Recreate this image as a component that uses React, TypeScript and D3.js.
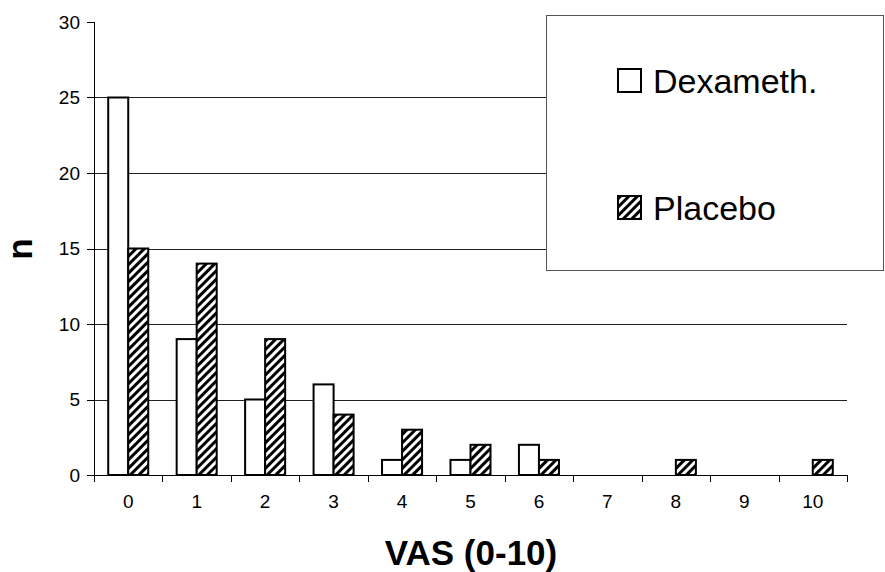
import * as d3 from "d3";

const categories = ["0", "1", "2", "3", "4", "5", "6", "7", "8", "9", "10"];
const dexameth = [25, 9, 5, 6, 1, 1, 2, 0, 0, 0, 0];
const placebo = [15, 14, 9, 4, 3, 2, 1, 0, 1, 0, 1];
const series = ["Dexameth.", "Placebo"];
const yTicks = [0, 5, 10, 15, 20, 25, 30];

const width = 885;
const height = 572;
const marginLeft = 94;
const marginRight = 38;
const marginTop = 22;
const marginBottom = 97;
const font = "'Liberation Sans', Arial, sans-serif";

export default function App() {
  const x = d3
    .scaleBand()
    .domain(categories)
    .range([marginLeft, width - marginRight])
    .paddingInner(0)
    .paddingOuter(0);
  const y = d3.scaleLinear([0, 30], [height - marginBottom, marginTop]);
  const xs = d3
    .scaleBand()
    .domain(series)
    .range([0, x.bandwidth()])
    .paddingInner(0)
    .paddingOuter(0.71);
  const y0 = y(0);
  const bounds = [...categories.map((c) => x(c)!), x.range()[1]];

  return (
    <svg
      width={width}
      height={height}
      style={{ position: "absolute", left: 0, top: 0, background: "#fff" }}
      fontFamily={font}
    >
      <defs>
        <pattern
          id="hatch"
          width="6"
          height="6"
          patternUnits="userSpaceOnUse"
          patternTransform="rotate(45)"
        >
          <rect width="6" height="6" fill="#fff" />
          <rect width="3" height="6" fill="#000" />
        </pattern>
      </defs>

      {/* gridlines */}
      {yTicks
        .filter((t) => t > 0 && t < 30)
        .map((t) => (
          <line
            key={t}
            x1={marginLeft}
            x2={width - marginRight}
            y1={Math.round(y(t)) + 0.5}
            y2={Math.round(y(t)) + 0.5}
            stroke="#222"
            strokeWidth={1}
          />
        ))}

      {/* bars */}
      {categories.map((c, i) => (
        <g key={c} transform={`translate(${x(c)},0)`}>
          {dexameth[i] > 0 && (
            <rect
              x={xs("Dexameth.")}
              y={y(dexameth[i])}
              width={xs.bandwidth()}
              height={y0 - y(dexameth[i])}
              fill="#fff"
              stroke="#000"
              strokeWidth={2}
            />
          )}
          {placebo[i] > 0 && (
            <rect
              x={xs("Placebo")}
              y={y(placebo[i])}
              width={xs.bandwidth()}
              height={y0 - y(placebo[i])}
              fill="url(#hatch)"
              stroke="#000"
              strokeWidth={2}
            />
          )}
        </g>
      ))}

      {/* y axis */}
      <line x1={marginLeft + 0.5} x2={marginLeft + 0.5} y1={y(30)} y2={y0} stroke="#000" />
      {yTicks.map((t) => (
        <g key={t}>
          <line
            x1={marginLeft - 7}
            x2={marginLeft}
            y1={Math.round(y(t)) + 0.5}
            y2={Math.round(y(t)) + 0.5}
            stroke="#000"
          />
          <text
            x={80}
            y={y(t)}
            dy="0.36em"
            textAnchor="end"
            fontSize={19}
          >
            {t}
          </text>
        </g>
      ))}

      {/* x axis */}
      <line x1={marginLeft} x2={width - marginRight} y1={Math.round(y0) + 0.5} y2={Math.round(y0) + 0.5} stroke="#000" />
      {bounds.map((b, i) => (
        <line key={i} x1={Math.round(b) + 0.5} x2={Math.round(b) + 0.5} y1={y0} y2={y0 + 7} stroke="#000" />
      ))}
      {categories.map((c) => (
        <text key={c} x={x(c)! + x.bandwidth() / 2} y={508} textAnchor="middle" fontSize={19}>
          {c}
        </text>
      ))}

      {/* axis titles */}
      <text x={471} y={565} textAnchor="middle" fontSize={35} fontWeight="bold">
        VAS (0-10)
      </text>
      <text
        transform="translate(32,249) rotate(-90)"
        textAnchor="middle"
        fontSize={35}
        fontWeight="bold"
      >
        n
      </text>

      {/* legend */}
      <rect x={546.5} y={15.5} width={337} height={255} fill="#fff" stroke="#555" strokeWidth={1} />
      <rect x={618} y={69} width={23} height={23} fill="#fff" stroke="#000" strokeWidth={2} />
      <text x={653} y={93} fontSize={34}>
        Dexameth.
      </text>
      <rect x={618} y={196} width={23} height={23} fill="url(#hatch)" stroke="#000" strokeWidth={2} />
      <text x={653} y={220} fontSize={34}>
        Placebo
      </text>
    </svg>
  );
}
